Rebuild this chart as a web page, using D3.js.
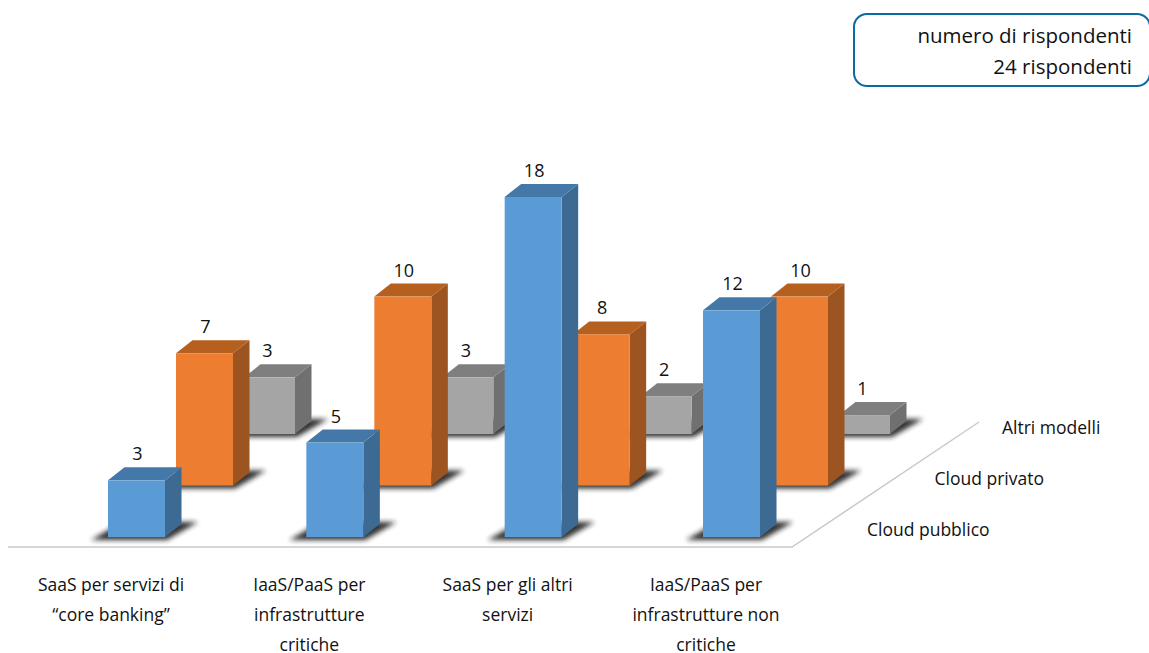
<!DOCTYPE html>
<html lang="it">
<head>
<meta charset="utf-8">
<script src="https://cdn.jsdelivr.net/npm/d3@7"></script>
<style>
html, body { margin: 0; padding: 0; background: #fff; }
svg { display: block; }
text { font-family: "Open Sans", sans-serif; fill: #111; }
</style>
</head>
<body>
<svg id="chart" width="1149" height="653"></svg>
<script>
const categories = ["SaaS per servizi di|“core banking”", "IaaS/PaaS per|infrastrutture|critiche", "SaaS per gli altri|servizi", "IaaS/PaaS per|infrastrutture non|critiche"];
const seriesNames = ["Altri modelli", "Cloud privato", "Cloud pubblico"];
const altriModelli = [3, 3, 2, 1];
const cloudPrivato = [7, 10, 8, 10];
const cloudPubblico = [3, 5, 18, 12];
const boxLines = ["numero di rispondenti", "24 rispondenti"];

const seriesValues = [altriModelli, cloudPrivato, cloudPubblico];
const palette = {
  "Cloud pubblico": { front: "#5b9bd5", side: "#3c6a92", top: "#4478a8", width: 57 },
  "Cloud privato":  { front: "#ed7d31", side: "#9c5420", top: "#b5601f", width: 57 },
  "Altri modelli":  { front: "#a5a5a5", side: "#707070", top: "#7f7f7f", width: 51 }
};

const svg = d3.select("#chart");

// Oblique projection: categories run left to right, series recede up and to the right.
const xCategory = d3.scalePoint().domain(d3.range(categories.length)).range([108, 703]);
const xDepth = d3.scalePoint().domain(["Cloud pubblico", "Cloud privato", "Altri modelli"]).range([0, 136]);
const yBase = d3.scalePoint().domain(["Cloud pubblico", "Cloud privato", "Altri modelli"]).range([537, 434]);
const barHeight = d3.scaleLinear().domain([0, 18]).range([0, 340]);
const depthX = 16.5, depthY = 13;

const defs = svg.append("defs");
defs.append("filter").attr("id", "shadowBlur")
  .attr("x", "-30%").attr("y", "-60%").attr("width", "160%").attr("height", "220%")
  .append("feGaussianBlur").attr("stdDeviation", 2.6);

const polygon = pts => pts.map(p => p.join(",")).join(" ");

// Floor edges
svg.append("polyline")
  .attr("points", polygon([[8, 547], [792, 547], [979, 422]]))
  .attr("fill", "none").attr("stroke", "#c9c9c9").attr("stroke-width", 1.5);

// Bars, painted from the back row to the front row
seriesNames.forEach((name, si) => {
  const style = palette[name];
  const rows = seriesValues[si].map((value, i) => ({ value, i }));
  const base = yBase(name);
  const left = d => xCategory(d.i) + xDepth(name);
  const top = d => base - barHeight(d.value);
  const w = style.width;

  const bars = svg.append("g").attr("class", "series").selectAll("g").data(rows).join("g");

  bars.append("polygon")
    .attr("points", d => polygon([
      [left(d) - 17, base + 3], [left(d) + w + 2, base + 3],
      [left(d) + w + 33, base - 15], [left(d) + 14, base - 15]
    ]))
    .attr("fill", "#1c1c1c").attr("opacity", 0.9).attr("filter", "url(#shadowBlur)");

  bars.append("polygon")
    .attr("points", d => polygon([
      [left(d) + w, top(d)], [left(d) + w + depthX, top(d) - depthY],
      [left(d) + w + depthX, base - depthY], [left(d) + w, base]
    ]))
    .attr("fill", style.side);

  bars.append("polygon")
    .attr("points", d => polygon([
      [left(d), top(d)], [left(d) + depthX, top(d) - depthY],
      [left(d) + w + depthX, top(d) - depthY], [left(d) + w, top(d)]
    ]))
    .attr("fill", style.top);

  bars.append("rect")
    .attr("x", left).attr("y", top)
    .attr("width", w).attr("height", d => barHeight(d.value))
    .attr("fill", style.front);
});

// Value labels sit above everything else
seriesNames.forEach((name, si) => {
  const w = palette[name].width;
  svg.append("g").selectAll("text").data(seriesValues[si]).join("text")
    .attr("x", (d, i) => xCategory(i) + xDepth(name) + w / 2 + (name === "Altri modelli" ? -2 : 1))
    .attr("y", d => yBase(name) - barHeight(d) - 20)
    .attr("text-anchor", "middle")
    .attr("font-size", 18)
    .text(d => d);
});

// Category labels under the floor
const catLabels = svg.append("g").selectAll("text").data(categories).join("text")
  .attr("text-anchor", "middle").attr("font-size", 17.5);
catLabels.each(function (d, i) {
  d3.select(this).selectAll("tspan").data(d.split("|")).join("tspan")
    .attr("x", xCategory(i) + 3)
    .attr("y", (line, k) => 591 + k * 30)
    .text(line => line);
});

// Series labels along the depth axis
const seriesLabelX = d3.scalePoint().domain(["Cloud pubblico", "Cloud privato", "Altri modelli"]).range([867, 1002]);
const seriesLabelY = d3.scalePoint().domain(["Cloud pubblico", "Cloud privato", "Altri modelli"]).range([536, 434]);
svg.append("g").selectAll("text").data(seriesNames).join("text")
  .attr("x", d => seriesLabelX(d))
  .attr("y", d => seriesLabelY(d))
  .attr("font-size", 17.5)
  .text(d => d);

// Respondents note, top right
svg.append("rect")
  .attr("x", 854).attr("y", 14).attr("width", 296).attr("height", 72).attr("rx", 13)
  .attr("fill", "#fff").attr("stroke", "#0b6aa2").attr("stroke-width", 2);
svg.append("g").selectAll("text").data(boxLines).join("text")
  .attr("x", 1132).attr("y", (d, i) => 43 + i * 31)
  .attr("text-anchor", "end").attr("font-size", 20.5)
  .text(d => d);
</script>
</body>
</html>
